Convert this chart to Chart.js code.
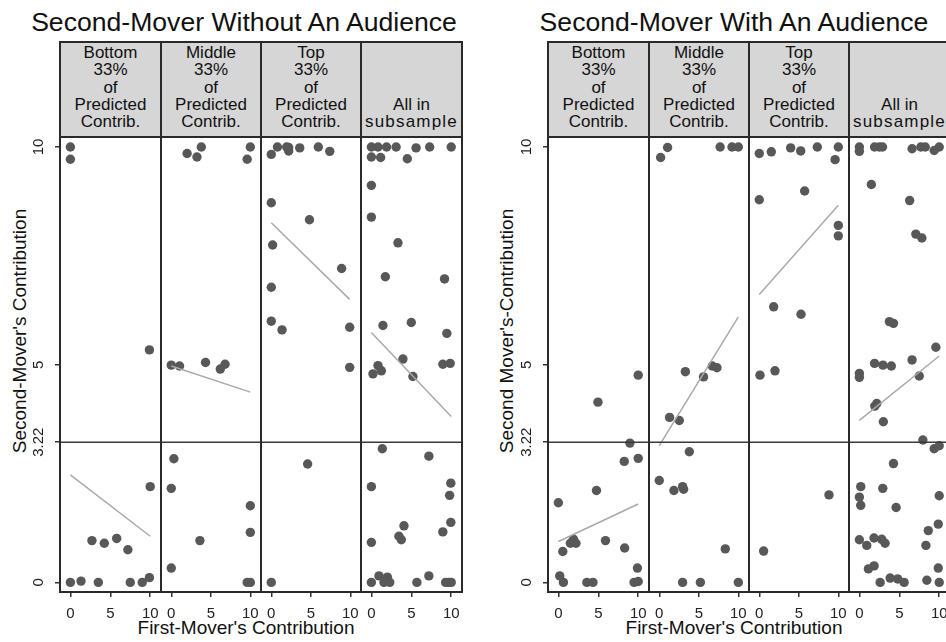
<!DOCTYPE html>
<html><head><meta charset="utf-8">
<script src="https://cdn.jsdelivr.net/npm/chart.js@4"></script>
<style>
html,body{margin:0;padding:0;background:#fff;}
#root{position:relative;width:946px;height:642px;overflow:hidden;font-family:"Liberation Sans",Arial,sans-serif;color:#111;background:#fff;}
.title{position:absolute;font-size:26.6px;line-height:26px;white-space:nowrap;transform:translateX(-50%);}
.hdr{position:absolute;box-sizing:border-box;background:#d6d6d6;border:2px solid #2a2a2a;display:flex;flex-direction:column;justify-content:flex-end;align-items:center;text-align:center;font-size:17px;line-height:17.3px;padding-bottom:5.5px;white-space:nowrap;}
.ytitle{position:absolute;font-size:19px;white-space:nowrap;transform:translate(-50%,-50%) rotate(-90deg);}
.xtitle{position:absolute;font-size:19px;white-space:nowrap;transform:translate(-50%,-50%);}
.cw{position:absolute;}
.frame{position:absolute;box-sizing:border-box;border:2px solid #2a2a2a;pointer-events:none;}
</style></head><body><div id="root"></div>
<script>
// ---------- data ----------
const panelTitles = ['Second-Mover Without An Audience', 'Second-Mover With An Audience'];
const groupLabels = [
  ['Bottom','33%','of','Predicted','Contrib.'],
  ['Middle','33%','of','Predicted','Contrib.'],
  ['Top','33%','of','Predicted','Contrib.'],
  ['All in','subsample']
];
const yTitles = ["Second-Mover's Contribution", "Second Mover's-Contribution"];
const xTitle = "First-Mover's Contribution";
const xTicks = [0, 5, 10];
const yTicks = [0, 3.22, 5, 10];
const yTickLabels = ['0', '3.22', '5', '10'];
const threshold = 3.22;

// Without audience
const noAudBottom = [[0,10],[0,9.72],[9.9,5.34],[0,0],[1.33,0.03],[2.7,0.96],[3.5,0],[4.25,0.9],[5.8,1.01],[7.2,0.75],[7.5,0],[9,0],[9.9,0.11],[10,2.2]];
const noAudBottomFit = [[0,2.47],[10,1.06]];
const noAudMiddle = [[0,4.99],[1.05,4.97],[2.0,9.85],[3.25,9.77],[3.8,10],[4.33,5.05],[6.2,4.9],[6.8,5.01],[9.6,9.72],[10,10],[0.33,2.84],[0,2.16],[3.62,0.96],[0,0.33],[10,1.76],[10,1.15],[9.6,0],[10,0]];
const noAudMiddleFit = [[0,4.97],[10,4.37]];
const noAudTop = [[0,9.83],[0.78,10],[1.95,10],[2.2,9.99],[2.2,9.91],[3.6,9.98],[5.95,10],[7.4,9.9],[0,8.72],[4.83,8.33],[0.17,7.75],[8.9,7.21],[0,6.78],[0,6.0],[1.36,5.8],[9.92,5.86],[9.92,4.94],[4.6,2.72],[0,0]];
const noAudTopFit = [[0,8.26],[9.92,6.5]];
const noAudAll = [[0,10],[0.83,10],[1.9,10],[3.1,10],[5.6,9.98],[7.3,10],[10,10],[0,9.77],[1.16,9.76],[4.5,9.73],[0,9.12],[0,8.39],[3.33,7.8],[1.75,7.02],[9.16,6.97],[1.45,5.9],[5.0,5.97],[9.45,5.72],[3.95,5.13],[0.83,4.98],[0.2,4.79],[1.25,4.86],[5.2,4.73],[8.95,5.01],[9.87,5.03],
  [1.37,3.07],[7.2,2.9],[0,2.2],[9.95,2.28],[9.8,2.0],[4.08,1.3],[9.95,1.38],[8.95,1.16],[3.45,1.06],[3.75,0.98],[0,0.92],[0.95,0.15],[2.0,0.12],[0,0],[1.58,0],[2.3,0],[5.7,0],[7.2,0.15],[9.3,0],[9.7,0],[10,0]];
const noAudAllFit = [[0,5.74],[10,3.81]];

// With audience
const audBottom = [[10,4.76],[4.96,4.14],[8.96,3.2],[8.25,2.78],[10,2.85],[4.77,2.11],[0,1.83],[5.9,0.96],[8.3,0.79],[1.9,0.99],[1.5,0.9],[2.2,0.9],[0.55,0.71],[9.9,0.33],[0.17,0.15],[0.63,0],[3.57,0],[4.33,0],[9.48,0],[10,0.02]];
const audBottomFit = [[0,0.94],[10,1.8]];
const audMiddle = [[0.17,9.76],[1.05,9.99],[7.7,10],[9.2,10],[10,10],[3.3,4.84],[5.6,4.72],[6.7,4.97],[7.3,4.93],[1.3,3.79],[2.53,3.72],[3.8,3.0],[0,2.34],[1.85,2.11],[2.95,2.2],[3.08,2.14],[2.95,0],[5.2,0],[10,0],[8.35,0.77]];
const audMiddleFit = [[0,3.14],[10,6.1]];
const audTop = [[0,9.85],[1.52,9.89],[3.97,9.98],[5.24,9.91],[7.34,10],[10,10],[9.59,9.71],[0,8.79],[5.74,8.99],[10,8.2],[10,7.96],[1.82,6.33],[5.28,6.16],[0.09,4.76],[1.99,4.86],[8.82,2.01],[0.55,0.72]];
const audTopFit = [[0,6.61],[10,8.66]];
const audAll = [[0,10],[0,9.9],[1.9,10],[2.5,10],[2.9,10],[6.6,9.96],[7.7,10],[8.25,10],[9.37,9.92],[10,10],[1.5,9.14],[6.3,8.77],[7.07,8.0],[7.83,7.91],[3.76,5.99],[4.27,5.95],[9.58,5.4],[1.9,5.03],[2.95,4.99],[4.0,4.97],[6.6,5.11],[0,4.8],[0,4.71],[7.5,4.74],[1.93,4.05],[2.18,4.11],[3.0,3.69],[7.95,3.27],[9.37,3.07],[10,3.14],
  [4.27,2.73],[0.17,2.2],[2.93,2.16],[10,1.99],[0,1.96],[0.17,1.77],[4.6,1.72],[9.88,1.34],[8.63,1.19],[0,0.98],[0.92,0.85],[1.83,1.02],[2.8,0.99],[3.22,0.9],[8.33,0.85],[9.88,0.33],[1.13,0.31],[1.84,0.38],[2.6,0],[3.85,0.1],[4.8,0.08],[5.6,0],[8.45,0.05],[10,0]];
const audAllFit = [[0,3.72],[10,5.2]];

// ---------- layout ----------
const halves = [
  {frame:[60,161,261,361,462], titleX:244, yTitleX:20, xTitleX:246,
   points:[noAudBottom,noAudMiddle,noAudTop,noAudAll], fits:[noAudBottomFit,noAudMiddleFit,noAudTopFit,noAudAllFit]},
  {frame:[548,649,749,849,950], titleX:734, yTitleX:507, xTitleX:734,
   points:[audBottom,audMiddle,audTop,audAll], fits:[audBottomFit,audMiddleFit,audTopFit,audAllFit]}
];
const HDR_TOP = 42, PLOT_TOP = 137, PLOT_BOTTOM = 592, H = 642;
const YW = 40;
const FONT = '"Liberation Sans", Arial, sans-serif';

const root = document.getElementById('root');
function el(cls, css, html){
  const d = document.createElement('div'); d.className = cls;
  Object.assign(d.style, css); if (html !== undefined) d.innerHTML = html;
  root.appendChild(d); return d;
}

const refPlugin = {
  id: 'refline',
  afterDatasetsDraw(chart) {
    const {ctx, chartArea, scales} = chart;
    const y = scales.y.getPixelForValue(threshold);
    ctx.save();
    ctx.strokeStyle = '#3a3a3a'; ctx.lineWidth = 1.6;
    ctx.beginPath();
    ctx.moveTo(chartArea.left, y); ctx.lineTo(chartArea.right, y); ctx.stroke();
    ctx.restore();
  },
  afterDraw(chart) {
    if (!chart.options.plugins.refline || !chart.options.plugins.refline.yLabels) return;
    const {ctx, chartArea, scales} = chart;
    ctx.save();
    ctx.fillStyle = '#222';
    ctx.font = '15px ' + FONT;
    ctx.textAlign = 'center'; ctx.textBaseline = 'middle';
    yTicks.forEach((v, i) => {
      const py = scales.y.getPixelForValue(v);
      ctx.save();
      ctx.translate(chartArea.left - 21, py);
      ctx.rotate(-Math.PI / 2);
      ctx.fillText(yTickLabels[i], 0, 0);
      ctx.restore();
    });
    ctx.restore();
  }
};

halves.forEach((h, hi) => {
  el('title', {left: h.titleX + 'px', top: '9px'}, panelTitles[hi]);
  el('ytitle', {left: h.yTitleX + 'px', top: '331px'}, yTitles[hi]);
  el('xtitle', {left: h.xTitleX + 'px', top: '628px'}, xTitle);
  for (let i = 0; i < 4; i++) {
    const x0 = h.frame[i], x1 = h.frame[i+1], w = x1 - x0;
    el('hdr', {left: (x0-1)+'px', top: (HDR_TOP-1)+'px', width: (w+2)+'px', height: (PLOT_TOP-HDR_TOP+2)+'px'},
       groupLabels[i].map(s => '<div' + (s === 'subsample' ? ' style="letter-spacing:1.2px"' : '') + '>' + s + '</div>').join(''));
    const first = i === 0;
    const cl = x0 - (first ? YW : 0);
    const cw = w + (first ? YW : 0);
    const wrap = el('cw', {left: cl+'px', top: PLOT_TOP+'px', width: cw+'px', height: (H-PLOT_TOP)+'px'});
    const cv = document.createElement('canvas'); wrap.appendChild(cv);
    new Chart(cv, {
      type: 'scatter',
      data: {datasets: [
        {data: h.fits[i].map(p => ({x:p[0], y:p[1]})), showLine: true, borderColor: '#a9a9a9', borderWidth: 1.5, pointRadius: 0, order: 0},
        {data: h.points[i].map(p => ({x:p[0], y:p[1]})), pointRadius: 4.7, backgroundColor: '#585858', borderWidth: 0, order: 1}
      ]},
      options: {
        responsive: true, maintainAspectRatio: false, animation: false, events: [],
        layout: {padding: 0, autoPadding: false},
        plugins: {legend: {display: false}, tooltip: {enabled: false}, refline: {yLabels: first}},
        scales: {
          x: {
            type: 'linear', min: -1.3, max: 11.35,
            afterBuildTicks: s => { s.ticks = xTicks.map(v => ({value: v})); },
            afterFit: s => { s.height = H - PLOT_BOTTOM; s.paddingLeft = 0; s.paddingRight = 0; },
            ticks: {font: {size: 15, family: FONT}, color: '#222', padding: 8, maxRotation: 0, autoSkip: false},
            grid: {drawOnChartArea: false, drawTicks: true, tickLength: 5, tickColor: '#333', lineWidth: 1.5},
            border: {display: false}
          },
          y: {
            type: 'linear', min: -0.22, max: 10.23, display: first,
            afterBuildTicks: s => { s.ticks = yTicks.map(v => ({value: v})); },
            afterFit: s => { s.width = first ? YW : 0; s.paddingTop = 0; s.paddingBottom = 0; },
            ticks: {display: false},
            grid: {drawOnChartArea: false, drawTicks: true, tickLength: 5, tickColor: '#333', lineWidth: 1.5},
            border: {display: false}
          }
        }
      },
      plugins: [refPlugin]
    });
    el('frame', {left: (x0-1)+'px', top: (PLOT_TOP-1)+'px', width: (w+2)+'px', height: (PLOT_BOTTOM-PLOT_TOP+2)+'px'});
  }
});
</script></body></html>
